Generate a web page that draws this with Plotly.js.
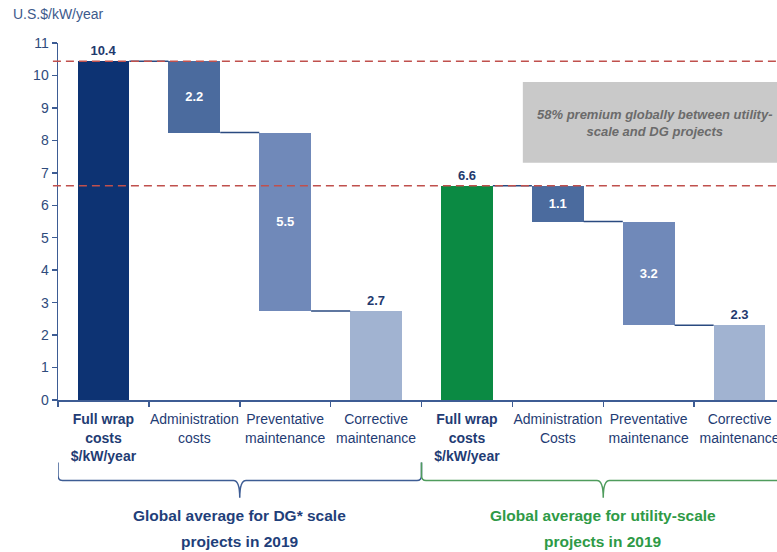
<!DOCTYPE html>
<html>
<head>
<meta charset="utf-8">
<script src="https://cdn.plot.ly/plotly-3.0.1.min.js"></script>
<style>
html, body { margin: 0; padding: 0; overflow: hidden; background: #ffffff; }
#chart { width: 800px; height: 552px; }
</style>
</head>
<body>
<div id="chart"></div>
<script>
// ---- data ----
const categories = [
  '<b>Full wrap<br>costs<br>$/kW/year</b>',
  'Administration<br>costs',
  'Preventative<br>maintenance',
  'Corrective<br>maintenance',
  '<b>Full wrap<br>costs<br>$/kW/year</b>',
  'Administration<br>Costs',
  'Preventative<br>maintenance',
  'Corrective<br>maintenance'
];
// [full wrap, administration, preventative, corrective] in U.S.$/kW/year
const dgValues = [10.44, 2.2, 5.5, 2.74];
const utilityValues = [6.6, 1.1, 3.2, 2.3];
const groupLabels = ['Global average for DG* scale', 'projects in 2019'];
const utilityGroupLabels = ['Global average for utility-scale', 'projects in 2019'];
const noteText = '58% premium globally between utility-<br>scale and DG projects';
const yTicks = [0, 1, 2, 3, 4, 5, 6, 7, 8, 9, 10, 11];

// ---- derived waterfall geometry ----
function waterfall(vals) {
  const total = vals[0];
  const bases = [0, total - vals[1], total - vals[1] - vals[2], 0];
  const levels = [total, total - vals[1], total - vals[1] - vals[2]];
  return { heights: vals.slice(), bases: bases, levels: levels };
}
const dg = waterfall(dgValues);
const ut = waterfall(utilityValues);
const xs = categories.map((c, i) => i);
const heights = dg.heights.concat(ut.heights);
const bases = dg.bases.concat(ut.bases);

const barColors = ['#0d3373', '#4b6b9e', '#7089b9', '#a1b3d1', '#0b8a43', '#4b6b9e', '#7089b9', '#a1b3d1'];
const textPos = ['outside', 'inside', 'inside', 'outside', 'outside', 'inside', 'inside', 'outside'];
const FONT = 'Liberation Sans, Arial, sans-serif';
const BW = 0.57;

const traces = [
  {
    type: 'bar',
    x: xs,
    y: heights,
    base: bases,
    width: BW,
    marker: { color: barColors, line: { width: 0 } },
    texttemplate: '<b>%{y:.1f}</b>',
    textposition: textPos,
    insidetextanchor: 'middle',
    constraintext: 'none',
    textangle: 0,
    insidetextfont: { color: '#ffffff', size: 13, family: FONT },
    outsidetextfont: { color: '#1f3a6e', size: 13, family: FONT },
    cliponaxis: false,
    hoverinfo: 'skip',
    showlegend: false
  },
  {
    type: 'scatter',
    x: [0],
    y: [0],
    xaxis: 'x2',
    mode: 'markers',
    marker: { opacity: 0 },
    hoverinfo: 'skip',
    showlegend: false
  }
];

const shapes = [];
// connectors
function addConnectors(levels, offset) {
  levels.forEach((lv, i) => {
    shapes.push({
      type: 'line', xref: 'x', yref: 'y',
      x0: offset + i + BW / 2, x1: offset + i + 1 - BW / 2, y0: lv, y1: lv,
      line: { color: '#2a4a80', width: 1.5 }
    });
  });
}
addConnectors(dg.levels, 0);
addConnectors(ut.levels, 4);

// dashed reference lines at both full-wrap totals
[dgValues[0], utilityValues[0]].forEach(v => {
  shapes.push({
    type: 'line', xref: 'paper', yref: 'y',
    x0: -0.007, x1: 1, y0: v, y1: v,
    line: { color: '#c0504d', width: 1.5, dash: '8px,5px' }
  });
});

// grey note box
shapes.push({
  type: 'rect', xref: 'x', yref: 'y',
  x0: 4.615, x1: 7.6, y0: 7.31, y1: 9.8,
  fillcolor: '#c9c9c9', line: { width: 0 }
});

// braces
function bracePath(x0, x1, xm) {
  const yTop = -0.175, yBar = -0.2255, yTip = -0.2735;
  return `M ${x0},${yTop} L ${x0},${yBar + 0.014} Q ${x0},${yBar} ${x0 + 0.05},${yBar} ` +
         `L ${xm - 0.07},${yBar} Q ${xm},${yBar} ${xm},${yTip} Q ${xm},${yBar} ${xm + 0.07},${yBar} ` +
         `L ${x1 - 0.05},${yBar} Q ${x1},${yBar} ${x1},${yBar + 0.014} L ${x1},${yTop}`;
}
shapes.push({ type: 'path', xref: 'x', yref: 'paper', path: bracePath(-0.5, 3.5, 1.5), line: { color: '#3d5c94', width: 1.5 } });
shapes.push({ type: 'path', xref: 'x', yref: 'paper', path: bracePath(3.5, 7.5, 5.5), line: { color: '#4f9c5d', width: 1.5 } });

const annotations = [
  {
    xref: 'paper', yref: 'paper', x: -0.064, y: 1.08, xanchor: 'left', yanchor: 'middle',
    text: 'U.S.$/kW/year', showarrow: false,
    font: { family: FONT, size: 14, color: '#3d5a8c' }
  },
  {
    xref: 'x', yref: 'y', x: 6.07, y: 8.55, xanchor: 'center', yanchor: 'middle',
    text: '<b><i>' + noteText + '</i></b>', showarrow: false,
    font: { family: FONT, size: 13, color: '#6b6b6b' }
  },
  {
    xref: 'x', yref: 'paper', x: 1.5, y: -0.324, xanchor: 'center', yanchor: 'middle',
    text: '<b>' + groupLabels[0] + '</b>', showarrow: false, font: { family: FONT, size: 15.5, color: '#1f3f7a' }
  },
  {
    xref: 'x', yref: 'paper', x: 1.5, y: -0.396, xanchor: 'center', yanchor: 'middle',
    text: '<b>' + groupLabels[1] + '</b>', showarrow: false, font: { family: FONT, size: 15.5, color: '#1f3f7a' }
  },
  {
    xref: 'x', yref: 'paper', x: 5.5, y: -0.324, xanchor: 'center', yanchor: 'middle',
    text: '<b>' + utilityGroupLabels[0] + '</b>', showarrow: false, font: { family: FONT, size: 15.5, color: '#2e9a46' }
  },
  {
    xref: 'x', yref: 'paper', x: 5.5, y: -0.396, xanchor: 'center', yanchor: 'middle',
    text: '<b>' + utilityGroupLabels[1] + '</b>', showarrow: false, font: { family: FONT, size: 15.5, color: '#2e9a46' }
  }
];

const layout = {
  width: 800,
  height: 552,
  margin: { l: 58, r: 15, t: 43, b: 152 },
  paper_bgcolor: '#ffffff',
  plot_bgcolor: '#ffffff',
  font: { family: FONT, color: '#1f3c74' },
  showlegend: false,
  bargap: 0,
  xaxis: {
    type: 'linear',
    range: [-0.5, 7.5],
    tickmode: 'array',
    tickvals: xs,
    ticktext: categories,
    ticks: 'outside',
    ticklen: 6,
    tickcolor: 'rgba(0,0,0,0)',
    tickfont: { family: FONT, size: 14, color: '#1f3c74' },
    showline: true,
    linecolor: '#3d5c94',
    linewidth: 1.5,
    showgrid: false,
    zeroline: false,
    fixedrange: true
  },
  xaxis2: {
    type: 'linear',
    overlaying: 'x',
    anchor: 'y',
    side: 'bottom',
    range: [-0.5, 7.5],
    tickmode: 'array',
    tickvals: [-0.5, 0.5, 1.5, 2.5, 3.5, 4.5, 5.5, 6.5, 7.5],
    ticks: 'outside',
    ticklen: 6,
    tickwidth: 1.5,
    tickcolor: '#3d5c94',
    showticklabels: false,
    showline: false,
    showgrid: false,
    zeroline: false
  },
  yaxis: {
    range: [0, 11],
    tickmode: 'array',
    tickvals: yTicks,
    ticks: 'outside',
    ticklen: 5,
    tickwidth: 1.5,
    tickcolor: '#3d5c94',
    tickfont: { family: FONT, size: 14, color: '#2f4b7c' },
    showline: true,
    linecolor: '#3d5c94',
    linewidth: 1.5,
    showgrid: false,
    zeroline: false,
    fixedrange: true
  },
  shapes: shapes,
  annotations: annotations
};

Plotly.newPlot('chart', traces, layout, { displayModeBar: false, staticPlot: true });
</script>
</body>
</html>
